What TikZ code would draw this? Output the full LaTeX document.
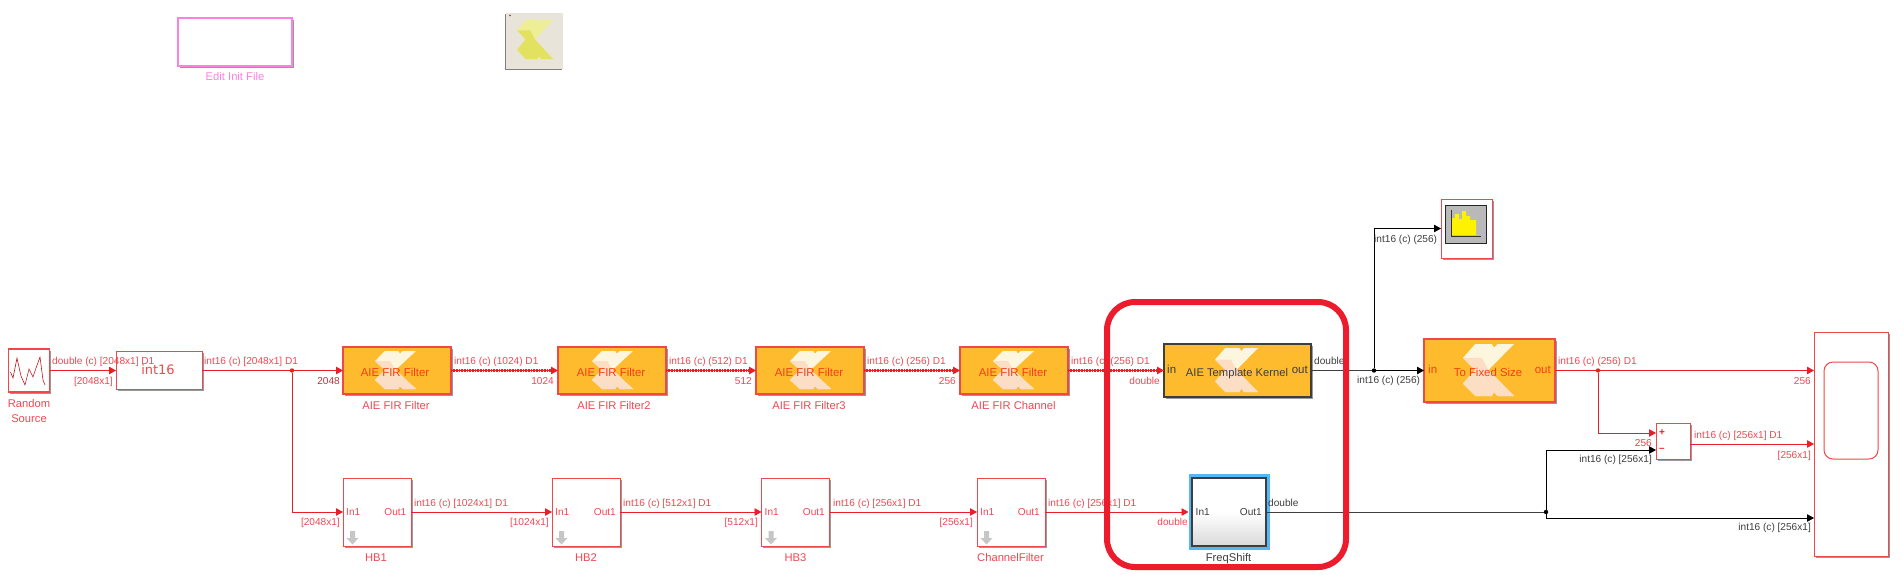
\documentclass[tikz,border=0pt]{standalone}
\usepackage{fontspec}
\setmainfont{Liberation Sans}
\newfontfamily\djv{DejaVu Sans}
\usetikzlibrary{arrows.meta,shadows,calc}
\definecolor{wirered}{RGB}{232,30,40}
\definecolor{txtred}{RGB}{240,72,84}
\definecolor{firtxt}{RGB}{240,64,24}
\definecolor{dk}{RGB}{62,62,62}
\definecolor{boxred}{RGB}{240,72,72}
\definecolor{orng}{RGB}{253,187,45}
\definecolor{mag}{RGB}{255,128,226}
\definecolor{hlred}{RGB}{236,28,44}
\definecolor{crm}{RGB}{253,246,222}
\definecolor{pnk}{RGB}{251,222,196}
\definecolor{ylA}{RGB}{238,238,150}
\definecolor{ylB}{RGB}{226,226,96}
\tikzset{
  shad/.style={drop shadow={shadow xshift=1.6pt,shadow yshift=-1.6pt,opacity=.4,fill=black}},
  blk/.style={draw=boxred,line width=1pt,fill=white,inner sep=0,outer sep=0,shad},
  firblk/.style={draw=boxred,line width=1.2pt,fill=orng,inner sep=0,outer sep=0,shad},
  wire/.style={draw=wirered,line width=.8pt},
  wirea/.style={wire,-{Triangle[length=7pt,width=7.5pt]}},
  bwire/.style={draw=dk,line width=.8pt},
  bwirea/.style={draw=black,line width=.8pt,-{Triangle[length=7pt,width=7.5pt]}},
  widew/.style={wirea,preaction={draw=wirered,-,line width=2.8pt,dash pattern=on 1pt off .6pt,shorten >=6pt}},
  jct/.style={circle,fill=#1,inner sep=0,minimum size=4.4pt,outer sep=0},
  lt/.style={anchor=base west,inner sep=0,yshift=-3.6pt,text=txtred,font=\fontsize{10.1}{12}\selectfont},
  rt/.style={anchor=base east,inner sep=0,yshift=-3.6pt,text=txtred,font=\fontsize{10.1}{12}\selectfont},
  ct/.style={anchor=base,inner sep=0,yshift=-4pt,text=txtred,font=\fontsize{11.2}{13}\selectfont},
  ctf/.style={ct,text=firtxt,font=\fontsize{11.4}{13}\selectfont},
  dkt/.style={text=dk},
}
\newcommand{\xlogo}[6]{%
  \begin{scope}[shift={(#1,#2)},x=#3pt,y=-#4pt]
    \fill[#5] (0,.265)--(.24,0)--(.565,0)--(.61,.07)--(.675,0)--(1,0)--(.5,.5)--(1,1)--(.675,1)--(.61,.92)--(.565,1)--(.24,1)--(0,.76)--(.24,.5)--cycle;
    \fill[#6] (0,.265)--(.37,.265)--(.5,.5)--(1,1)--(.675,1)--(.61,.92)--(.565,1)--(.24,1)--(0,.76)--(.24,.5)--cycle;
  \end{scope}}
\newcommand{\hbarrow}[1]{%
  \fill[gray!45] ($(#1.south west)+(7,-15)$) -- ++(5,0) -- ++(0,7) -- ++(3.5,0) -- ++(-6,6.5) -- ++(-6,-6.5) -- ++(3.5,0) -- cycle;}
\begin{document}
\begin{tikzpicture}[x=1pt,y=-1pt]
\useasboundingbox (0,0) rectangle (1902,574);
\fill[white] (0,0) rectangle (1902,574);

% top blocks
\node[blk,draw=mag,line width=1.2pt,minimum width=114pt,minimum height=48pt] (init) at (235,42) {};
\node[ct,text=mag] (initl) at (235,76.5) {Edit Init File};
\node[draw=none,fill={rgb,255:red,232;green,228;blue,218},inner sep=0,outer sep=0,minimum width=57pt,minimum height=56pt,drop shadow={shadow xshift=-1pt,shadow yshift=-1pt,opacity=.5,fill=black}] (xbox) at (534.5,41) {};
\xlogo{517}{20}{36}{39}{ylA}{ylB}
\fill[black!70] (510,15.5) circle (.8pt);

% row 1 blocks
\node[blk,line width=1.2pt,minimum width=41pt,minimum height=43pt] (rnd) at (29,370.5) {};
\draw[wirered!80!black,line width=.6pt] (10.5,372)--(13,378)--(17,358)--(21,376)--(25,385)--(29,369)--(33,377)--(36,368)--(40,357)--(43,380)--(45,385);
\node[ct] (rndl1) at (29,403) {Random};
\node[ct] (rndl2) at (29,418) {Source};
\node[blk,minimum width=86pt,minimum height=38pt] (conv) at (159,370.5) {};
\node[anchor=base,inner sep=0,yshift=-4.5pt,text=txtred,font=\djv\fontsize{13}{15}\selectfont] (convt) at (158,369.5) {int16};

\node[firblk,minimum width=108pt,minimum height=47pt] (f1) at (397,370.5) {};
\node[firblk,minimum width=108pt,minimum height=47pt] (f2) at (612,370.5) {};
\node[firblk,minimum width=108pt,minimum height=47pt] (f3) at (810,370.5) {};
\node[firblk,minimum width=108pt,minimum height=47pt] (f4) at (1014,370.5) {};
\node[firblk,draw=dk,minimum width=147pt,minimum height=53pt] (tk) at (1237.5,370.5) {};
\node[firblk,minimum width=131pt,minimum height=63pt] (fx) at (1489.5,370.5) {};
\xlogo{375}{351}{41}{38}{crm}{pnk}
\xlogo{592}{351}{41}{38}{crm}{pnk}
\xlogo{790}{351}{41}{38}{crm}{pnk}
\xlogo{993}{351}{41}{38}{crm}{pnk}
\xlogo{1215}{348}{43}{44}{crm}{pnk}
\xlogo{1463}{344}{51}{52}{crm}{pnk}

\node[ctf] (f1t) at (395,372) {AIE FIR Filter};
\node[ctf] (f2t) at (611,372) {AIE FIR Filter};
\node[ctf] (f3t) at (809,372) {AIE FIR Filter};
\node[ctf] (f4t) at (1013,372) {AIE FIR Filter};
\node[ct] (f1l) at (396,405) {AIE FIR Filter};
\node[ct] (f2l) at (614,405) {AIE FIR Filter2};
\node[ct] (f3l) at (809,405) {AIE FIR Filter3};
\node[ct] (f4l) at (1013.5,405) {AIE FIR Channel};
\node[ct,dkt,font=\fontsize{11.2}{13}\selectfont] (tkt) at (1237,372) {AIE Template Kernel};
\node[lt,dkt,font=\fontsize{11.5}{13}\selectfont] (tki) at (1167,370) {in};
\node[rt,dkt,font=\fontsize{11.5}{13}\selectfont] (tko) at (1308,370) {out};
\node[ctf] (fxt) at (1488,372) {To Fixed Size};
\node[lt,text=firtxt,font=\fontsize{11.5}{13}\selectfont] (fxi) at (1428,370) {in};
\node[rt,text=firtxt,font=\fontsize{11.5}{13}\selectfont] (fxo) at (1551,370) {out};

% row 2 blocks
\node[blk,minimum width=68pt,minimum height=68pt] (h1) at (377,512) {};
\node[blk,minimum width=68pt,minimum height=68pt] (h2) at (586,512) {};
\node[blk,minimum width=68pt,minimum height=68pt] (h3) at (795.5,512) {};
\node[blk,minimum width=68pt,minimum height=68pt] (h4) at (1011,512) {};
\hbarrow{h1}\hbarrow{h2}\hbarrow{h3}\hbarrow{h4}
\node[lt] (h1i) at (346,512) {In1};
\node[rt] (h1o) at (406.5,512) {Out1};
\node[lt] (h2i) at (555,512) {In1};
\node[rt] (h2o) at (616,512) {Out1};
\node[lt] (h3i) at (764.5,512) {In1};
\node[rt] (h3o) at (825,512) {Out1};
\node[lt] (h4i) at (980,512) {In1};
\node[rt] (h4o) at (1040,512) {Out1};
\node[ct] (h1l) at (376,557) {HB1};
\node[ct] (h2l) at (586,557) {HB2};
\node[ct] (h3l) at (795.5,557) {HB3};
\node[ct] (h4l) at (1010.5,557) {ChannelFilter};

\node[fill={rgb,255:red,84;green,184;blue,244},inner sep=0,outer sep=0,minimum width=81pt,minimum height=76pt] (fsb) at (1229,512) {};
\node[draw=dk,line width=1.2pt,inner sep=0,outer sep=0,top color=white,bottom color=gray!30,middle color=white,minimum width=74pt,minimum height=68pt] (fs) at (1229,512) {};
\node[lt,dkt] (fsi) at (1195.5,512) {In1};
\node[rt,dkt] (fso) at (1262,512) {Out1};
\node[ct,dkt] (fsl) at (1228.6,557) {FreqShift};

% right blocks
\node[blk,minimum width=51pt,minimum height=59pt] (hist) at (1466.5,228.5) {};
\node[draw=black!85,line width=1.8pt,fill=gray!55,inner sep=0,outer sep=0,minimum width=41pt,minimum height=38pt] (histi) at (1466,224.5) {};
\fill[yellow] (1452,235)--(1452,218)--(1455,218)--(1455,214)--(1459,214)--(1459,219)--(1462,219)--(1462,211)--(1466,211)--(1466,216)--(1470,216)--(1470,220)--(1476,220)--(1476,235)--cycle;
\draw[black!80,line width=.7pt] (1451,210)--(1451,236)--(1481,236);
\node[blk,minimum width=34pt,minimum height=36pt] (sum) at (1673,441) {};
\node[anchor=center,inner sep=0,text=wirered,font=\bfseries\fontsize{10}{12}\selectfont] (sump) at (1662,433) {+};
\node[anchor=center,inner sep=0,text=wirered,font=\bfseries\fontsize{10}{12}\selectfont] (summ) at (1662,449.5) {--};
\node[blk,minimum width=74pt,minimum height=224pt] (sc) at (1851,444) {};
\node[draw=boxred,line width=1pt,rounded corners=9pt,inner sep=0,outer sep=0,minimum width=54pt,minimum height=97pt] (sci) at (1851,410.5) {};

% helper points
\coordinate (sumPin) at (1656,433);
\coordinate (sumMin) at (1656,450);
\coordinate (sumOut) at (1690,444);
\coordinate (scA) at (1814,370.5);
\coordinate (scB) at (1814,444);
\coordinate (scC) at (1814,518);
\coordinate (bend) at (1546,518);
\node[jct=wirered] (j1) at (292,370.5) {};
\node[jct=black] (j2) at (1374,370.5) {};
\node[jct=wirered] (j3) at (1598,370.5) {};
\node[jct=black] (j4) at (1546,512) {};

% connectors
\draw[wirea] (rnd.east) -- (conv.west);
\draw[wire] (conv.east) -- (j1);
\draw[wirea] (j1) -- (f1.west);
\draw[wirea] (j1) |- (h1.west);
\draw[widew] (f1.east) -- (f2.west);
\draw[widew] (f2.east) -- (f3.west);
\draw[widew] (f3.east) -- (f4.west);
\draw[widew] (f4.east) -- (tk.west);
\draw[bwire] (tk.east) -- (j2);
\draw[bwirea] (j2) -- (fx.west);
\draw[bwirea] (j2) |- (hist.west);
\draw[wire] (fx.east) -- (j3);
\draw[wirea] (j3) -- (scA);
\draw[wirea] (j3) |- (sumPin);
\draw[wirea] (sumOut) -- (scB);
\draw[wirea] (h1.east) -- (h2.west);
\draw[wirea] (h2.east) -- (h3.west);
\draw[wirea] (h3.east) -- (h4.west);
\draw[wirea] (h4.east) -- (fsb.west);
\draw[bwire] (fs.east) -- (j4);
\draw[bwirea] (j4) |- (sumMin);
\draw[bwirea] (j4) -- (bend) -- (scC);

% signal labels
\node[lt] (a1) at (52,361) {double (c) [2048x1] D1};
\node[rt] (a2) at (113,381) {[2048x1]};
\node[lt] (a3) at (204,361) {int16 (c) [2048x1] D1};
\node[rt,text=txtred!75!black] (a4) at (340,381) {2048};
\node[lt] (a5) at (454,361) {int16 (c) (1024) D1};
\node[rt] (a6) at (554,381) {1024};
\node[lt] (a7) at (669,361) {int16 (c) (512) D1};
\node[rt] (a8) at (752,381) {512};
\node[lt] (a9) at (867,361) {int16 (c) (256) D1};
\node[rt] (a10) at (956,381) {256};
\node[lt] (a11) at (1071,361) {int16 (c) (256) D1};
\node[rt] (a12) at (1160,381) {double};
\node[lt,dkt] (a13) at (1314,361) {double};
\node[lt,dkt] (a14) at (1357,380) {int16 (c) (256)};
\node[lt,dkt] (a15) at (1374,239) {int16 (c) (256)};
\node[lt] (a16) at (1558,361) {int16 (c) (256) D1};
\node[rt] (a17) at (1811,381) {256};
\node[rt,text=wirered!85!white] (a18) at (1652,443) {256};
\node[rt,dkt] (a19) at (1652,459) {int16 (c) [256x1]};
\node[lt] (a20) at (1694,435) {int16 (c) [256x1] D1};
\node[rt] (a21) at (1811,455) {[256x1]};
\node[rt,dkt] (a22) at (1811,527) {int16 (c) [256x1]};
\node[rt] (b1) at (340,522) {[2048x1]};
\node[lt] (b2) at (414,503) {int16 (c) [1024x1] D1};
\node[rt] (b3) at (549,522) {[1024x1]};
\node[lt] (b4) at (623,503) {int16 (c) [512x1] D1};
\node[rt] (b5) at (758,522) {[512x1]};
\node[lt] (b6) at (833,503) {int16 (c) [256x1] D1};
\node[rt] (b7) at (973,522) {[256x1]};
\node[lt] (b8) at (1048,503) {int16 (c) [256x1] D1};
\node[rt] (b9) at (1188,522) {double};
\node[lt,dkt] (b10) at (1268,503) {double};

% highlight frame
\node[draw=hlred,line width=6pt,rounded corners=28pt,inner sep=0,outer sep=0,minimum width=239pt,minimum height=265pt] (hl) at (1226.5,434.5) {};
\end{tikzpicture}
\end{document}
